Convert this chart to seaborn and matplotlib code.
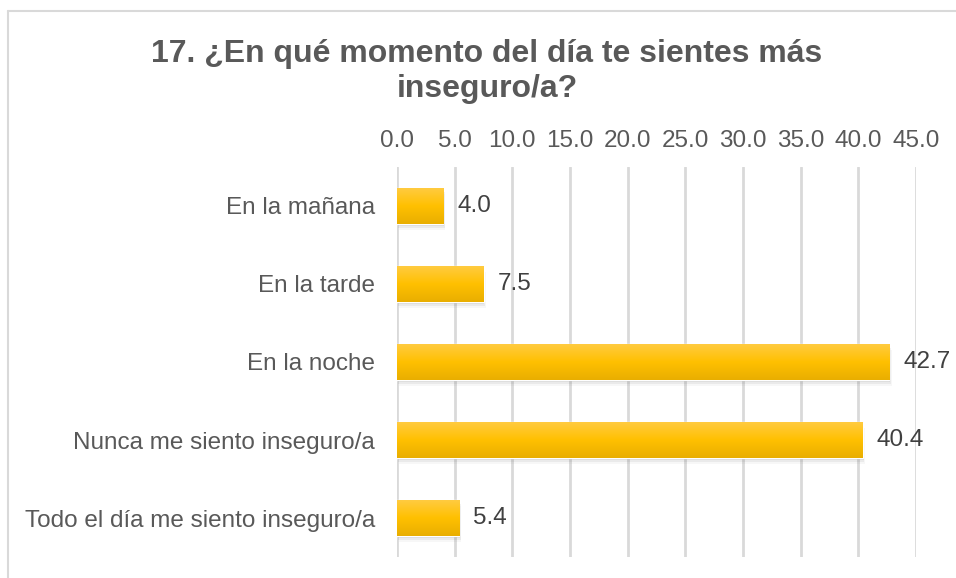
import numpy as np
import pandas as pd
import matplotlib.pyplot as plt
import seaborn as sns
from matplotlib.colors import LinearSegmentedColormap
from matplotlib.lines import Line2D

categories = ['En la mañana', 'En la tarde', 'En la noche',
              'Nunca me siento inseguro/a', 'Todo el día me siento inseguro/a']
values = [4.0, 7.5, 42.7, 40.4, 5.4]
x_ticks = [0, 5, 10, 15, 20, 25, 30, 35, 40, 45]
title_1 = '17. ¿En qué momento del día te sientes más'
title_2 = 'inseguro/a?'

df = pd.DataFrame({'momento': categories, 'porcentaje': values})

sns.set_style('white')
plt.rcParams['font.family'] = ['Liberation Sans', 'DejaVu Sans']

W, H = 956, 578
fig = plt.figure(figsize=(W / 100, H / 100), dpi=100)
ax = fig.add_axes([397 / W, 1 - 557 / H, (916 - 397) / W, (557 - 167) / H])

sns.barplot(data=df, x='porcentaje', y='momento', orient='h', order=categories,
            color='#FFC000', width=0.46, ax=ax, zorder=3)

# gradient fill + soft shadow on each bar
grad = LinearSegmentedColormap.from_list('gold', ['#FFCB40', '#FFC000', '#E9AE00'])
for p in ax.patches:
    x0, y0 = p.get_x(), p.get_y()
    w, h = p.get_width(), p.get_height()
    for k, a in enumerate([0.10, 0.07, 0.04]):
        sh = plt.Rectangle((x0 + 0.06 * (k + 1), y0 + 0.025 * (k + 1)), w, h,
                           facecolor='#404040', alpha=a, edgecolor='none', zorder=2)
        ax.add_patch(sh)
    im = ax.imshow(np.linspace(0, 1, 100).reshape(-1, 1), cmap=grad, aspect='auto',
                   extent=[x0, x0 + w, y0 + h, y0], zorder=4)
    im.set_clip_path(p)

ax.bar_label(ax.containers[0], fmt='%.1f', padding=10, fontsize=17.5, color='#404040')

ax.set_xlim(0, 45)
ax.set_ylim(len(categories) - 0.5, -0.5)
ax.set_xticks(x_ticks)
ax.set_xticklabels([f'{t:.1f}' for t in x_ticks])
ax.xaxis.tick_top()
ax.tick_params(axis='x', length=0, pad=11, labelsize=17.5, labelcolor='#595959')
ax.tick_params(axis='y', length=0, pad=16, labelsize=17.5, labelcolor='#595959')
ax.set_xlabel('')
ax.set_ylabel('')
ax.grid(axis='x', color='#D9D9D9', linewidth=2, zorder=0)
ax.set_axisbelow(True)
sns.despine(ax=ax, left=True, bottom=True, top=True, right=True)

fig.text(487 / W, 1 - 62 / H, title_1, ha='center', va='baseline',
         fontsize=23, fontweight='bold', color='#595959')
fig.text(487 / W, 1 - 97 / H, title_2, ha='center', va='baseline',
         fontsize=23, fontweight='bold', color='#595959')

# chart area border (cropped at right and bottom)
fig.add_artist(Line2D([8 / W, 1], [1 - 11 / H, 1 - 11 / H], color='#D9D9D9', lw=1.5))
fig.add_artist(Line2D([8 / W, 8 / W], [0, 1 - 11 / H], color='#D9D9D9', lw=1.5))

fig.savefig('out.png', dpi=100)
